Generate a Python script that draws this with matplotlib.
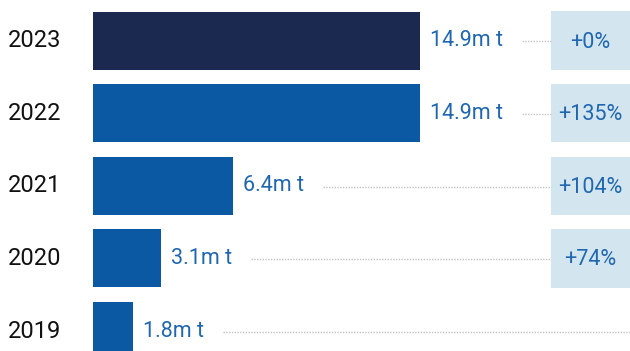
import matplotlib
matplotlib.use("Agg")
import matplotlib.pyplot as plt
from matplotlib.patches import Rectangle
from matplotlib.transforms import blended_transform_factory

plt.rcParams['font.family'] = ['Roboto', 'DejaVu Sans']

# Annual volumes (million tonnes), newest first
years = ["2023", "2022", "2021", "2020", "2019"]
volumes = [14.9, 14.9, 6.4, 3.1, 1.8]
value_labels = ["14.9m t", "14.9m t", "6.4m t", "3.1m t", "1.8m t"]
growth = ["+0%", "+135%", "+104%", "+74%", None]

NAVY = "#1b2951"
BLUE = "#0b58a3"
LABEL_BLUE = "#1f67b1"
BOX_FILL = "#d3e5ee"
DOT_GREY = "#c4c4c4"

W, H = 630, 351
fig = plt.figure(figsize=(W / 100, H / 100), dpi=100)
left_px = 93
ax = fig.add_axes([left_px / W, 0, (W - left_px) / W, 1])

px_per_unit = 21.95
xmax = (W - left_px) / px_per_unit
pitch = 72.6
first_center = 40.6
ax.set_xlim(0, xmax)
ax.set_ylim((H - first_center) / pitch, -first_center / pitch)
ax.axis("off")

bar_h = 58 / pitch
ypos = list(range(len(years)))
colors = [NAVY] + [BLUE] * (len(years) - 1)
ax.barh(ypos, volumes, height=bar_h, color=colors, edgecolor="none")

# Year labels on the left edge of the figure
ytrans = blended_transform_factory(fig.transFigure, ax.transData)
for y, yr in zip(ypos, years):
    ax.text(8 / W, y, yr, transform=ytrans, ha="left", va="center",
            fontsize=17, color="#111111", clip_on=False)

# Value labels next to the bars
texts = []
for y, v, lab in zip(ypos, volumes, value_labels):
    t = ax.annotate(lab, (v, y), xytext=(7.2, 0), textcoords="offset points",
                    ha="left", va="center", fontsize=15.5, color=LABEL_BLUE)
    texts.append(t)

# Growth boxes on the right
box_left = (551 - left_px) / px_per_unit
box_h = 58.5 / pitch
box_cx = (590.5 - left_px) / px_per_unit
for y, g in zip(ypos, growth):
    if g is None:
        continue
    ax.add_patch(Rectangle((box_left, y - box_h / 2), xmax - box_left + 1, box_h,
                           facecolor=BOX_FILL, edgecolor="none", clip_on=False))
    ax.text(box_cx, y + 0.02, g, ha="center", va="center", fontsize=15.5,
            color=LABEL_BLUE)

# Dotted leader lines from each value label to its box
fig.canvas.draw()
renderer = fig.canvas.get_renderer()
inv = ax.transData.inverted()
for y, t, g in zip(ypos, texts, growth):
    bb = t.get_window_extent(renderer)
    x_start = inv.transform((bb.x1 + 19, 0))[0]
    x_end = box_left if g is not None else xmax
    ax.plot([x_start, x_end], [y + 0.01, y + 0.01], color=DOT_GREY,
            linewidth=1.0, linestyle=(0, (1, 1)), clip_on=False)

fig.savefig("out.png", dpi=100, facecolor="white")
